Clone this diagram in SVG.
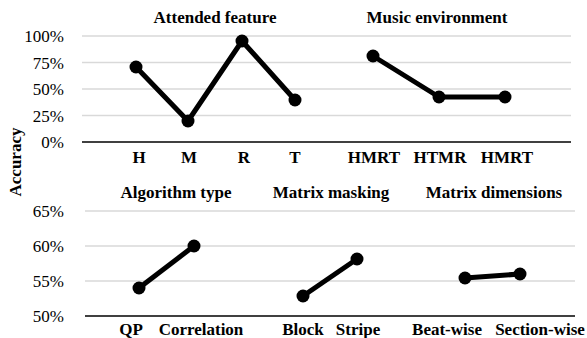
<svg xmlns="http://www.w3.org/2000/svg" width="587" height="338" viewBox="0 0 587 338">
<style>
text{font-family:"Liberation Serif","Times New Roman",serif;fill:#000}
.t{font-size:17px;font-weight:bold;text-anchor:middle}
.y{font-size:17px;text-anchor:end}
.grid{stroke:#d9d9d9;stroke-width:1.3}
.axis{stroke:#000;stroke-width:1.6}
.ser{fill:none;stroke:#000;stroke-width:5;stroke-linejoin:round}
.pt{fill:#000}
</style>
<rect width="587" height="338" fill="#fff"/>
<text class="t" transform="translate(21,162) rotate(-90)">Accuracy</text>
<g id="top-chart">
<g id="top-grid">
<line class="grid" x1="82" y1="36" x2="571" y2="36"/>
<line class="grid" x1="82" y1="62.5" x2="571" y2="62.5"/>
<line class="grid" x1="82" y1="89" x2="571" y2="89"/>
<line class="grid" x1="82" y1="115.5" x2="571" y2="115.5"/>
<line class="axis" x1="82" y1="142" x2="571" y2="142"/>
</g>
<g id="top-yaxis">
<text class="y" x="64" y="42">100%</text>
<text class="y" x="64" y="68.5">75%</text>
<text class="y" x="64" y="95">50%</text>
<text class="y" x="64" y="121.5">25%</text>
<text class="y" x="64" y="148">0%</text>
</g>
<text class="t" x="215" y="23">Attended feature</text>
<text class="t" x="437" y="23">Music environment</text>
<g id="top-xaxis">
<text class="t" x="139" y="163">H</text>
<text class="t" x="189" y="163">M</text>
<text class="t" x="244" y="163">R</text>
<text class="t" x="295" y="163">T</text>
<text class="t" x="374" y="163">HMRT</text>
<text class="t" x="440" y="163">HTMR</text>
<text class="t" x="507" y="163">HMRT</text>
</g>
</g>
<g id="bottom-chart">
<g id="bottom-grid">
<line class="grid" x1="85" y1="211" x2="575" y2="211"/>
<line class="grid" x1="85" y1="246" x2="575" y2="246"/>
<line class="grid" x1="85" y1="281" x2="575" y2="281"/>
<line class="axis" x1="85" y1="316" x2="575" y2="316"/>
</g>
<g id="bottom-yaxis">
<text class="y" x="64" y="217">65%</text>
<text class="y" x="64" y="252">60%</text>
<text class="y" x="64" y="287">55%</text>
<text class="y" x="64" y="322">50%</text>
</g>
<text class="t" x="176" y="198">Algorithm type</text>
<text class="t" x="331" y="198">Matrix masking</text>
<text class="t" x="494" y="198">Matrix dimensions</text>
<g id="bottom-xaxis">
<text class="t" x="131" y="335">QP</text>
<text class="t" x="201" y="335">Correlation</text>
<text class="t" x="303" y="335">Block</text>
<text class="t" x="358" y="335">Stripe</text>
<text class="t" x="447" y="335">Beat-wise</text>
<text class="t" x="540" y="335">Section-wise</text>
</g>
</g>
<g id="connectors">
<polyline class="ser" points="136,67 188,121 242,41 295,100"/>
<polyline class="ser" points="373,56 439,97 505,97"/>
<polyline class="ser" points="139,288 194,246"/>
<polyline class="ser" points="303,296 357,259"/>
<polyline class="ser" points="465,278 520,274"/>
</g>
<g id="points">
<circle class="pt" cx="136" cy="67" r="6.5"/>
<circle class="pt" cx="188" cy="121" r="6.5"/>
<circle class="pt" cx="242" cy="41" r="6.5"/>
<circle class="pt" cx="295" cy="100" r="6.5"/>
<circle class="pt" cx="373" cy="56" r="6.5"/>
<circle class="pt" cx="439" cy="97" r="6.5"/>
<circle class="pt" cx="505" cy="97" r="6.5"/>
<circle class="pt" cx="139" cy="288" r="6.5"/>
<circle class="pt" cx="194" cy="246" r="6.5"/>
<circle class="pt" cx="303" cy="296" r="6.5"/>
<circle class="pt" cx="357" cy="259" r="6.5"/>
<circle class="pt" cx="465" cy="278" r="6.5"/>
<circle class="pt" cx="520" cy="274" r="6.5"/>
</g>
</svg>
